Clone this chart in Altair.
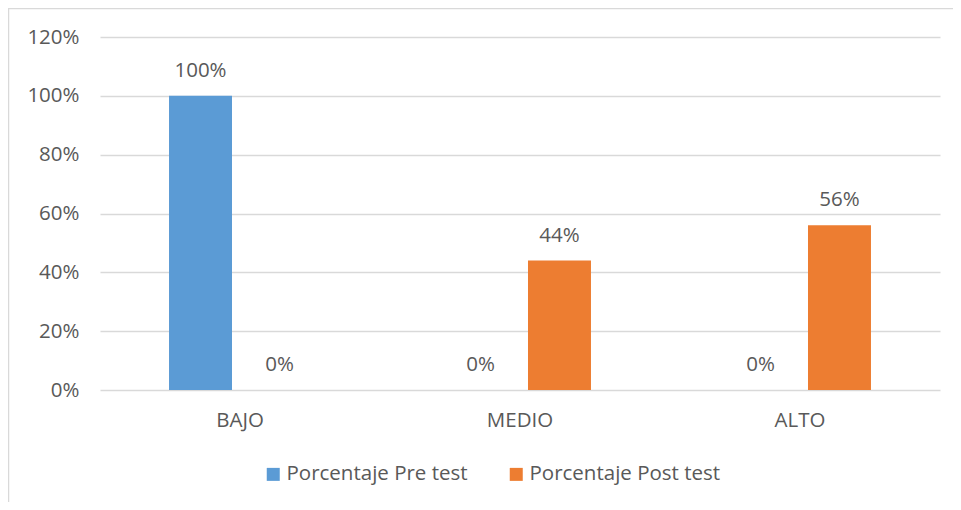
import altair as alt
import pandas as pd

categories = ["BAJO", "MEDIO", "ALTO"]
pre_test = [1.00, 0.00, 0.00]
post_test = [0.00, 0.44, 0.56]
series_names = ["Porcentaje Pre test", "Porcentaje Post test"]
series_colors = ["#5B9BD5", "#ED7D31"]
y_ticks = [0, 0.2, 0.4, 0.6, 0.8, 1.0, 1.2]

rows = []
for i, c in enumerate(categories):
    rows.append({"cat": c, "serie": series_names[0], "val": pre_test[i]})
    rows.append({"cat": c, "serie": series_names[1], "val": post_test[i]})
df = pd.DataFrame(rows)

FONT = "Open Sans"
GRAY = "#595959"
FS = 20.5

x_enc = alt.X("cat:N", sort=categories, title=None,
              scale=alt.Scale(paddingInner=0.493, paddingOuter=0.2465),
              axis=alt.Axis(labelAngle=0, domain=False, ticks=False, grid=False,
                            labelPadding=20, labelFontSize=FS, labelColor=GRAY,
                            labelFont=FONT))
xoff = alt.XOffset("serie:N", sort=series_names,
                   scale=alt.Scale(paddingInner=0.2025, paddingOuter=0))
y_enc = alt.Y("val:Q", title=None,
              scale=alt.Scale(domain=[0, 1.2], nice=False),
              axis=alt.Axis(values=y_ticks, format=".0%", domain=False, ticks=False,
                            labelPadding=21, labelFontSize=FS, labelColor=GRAY,
                            labelFont=FONT, gridColor="#D9D9D9", gridWidth=1.5))

bars = alt.Chart(df).mark_bar().encode(
    x=x_enc, xOffset=xoff, y=y_enc,
    color=alt.Color("serie:N", sort=series_names,
                    scale=alt.Scale(domain=series_names, range=series_colors),
                    legend=alt.Legend(title=None, orient="none", direction="horizontal",
                                      legendX=163, legendY=427,
                                      symbolType="square", symbolSize=169,
                                      symbolStrokeWidth=0, labelFontSize=FS,
                                      labelColor=GRAY, labelFont=FONT,
                                      labelOffset=3, columnPadding=38,
                                      labelLimit=400)),
)

labels = alt.Chart(df).mark_text(
    baseline="middle", dy=-25, fontSize=FS, color=GRAY, font=FONT
).encode(
    x=x_enc, xOffset=xoff, y=y_enc,
    text=alt.Text("val:Q", format=".0%"),
)

frame_data = alt.Data(values=[{"k": 1}])
left_border = alt.Chart(frame_data).mark_rule(color="#D9D9D9", strokeWidth=1.5).encode(
    x=alt.value(-91.5), y=alt.value(-29), y2=alt.value(500))
top_border = alt.Chart(frame_data).mark_rule(color="#D9D9D9", strokeWidth=1.5).encode(
    x=alt.value(-92), x2=alt.value(870), y=alt.value(-28.5))

chart = alt.layer(left_border, top_border, bars, labels).properties(
    width=840, height=353,
    background="white",
    autosize=alt.AutoSizeParams(type="none"),
    padding={"left": 92, "top": 29, "right": 13, "bottom": 112},
).configure_view(stroke="transparent", strokeWidth=0)

chart.save("out.html", embed_options={"renderer": "svg", "actions": False})
